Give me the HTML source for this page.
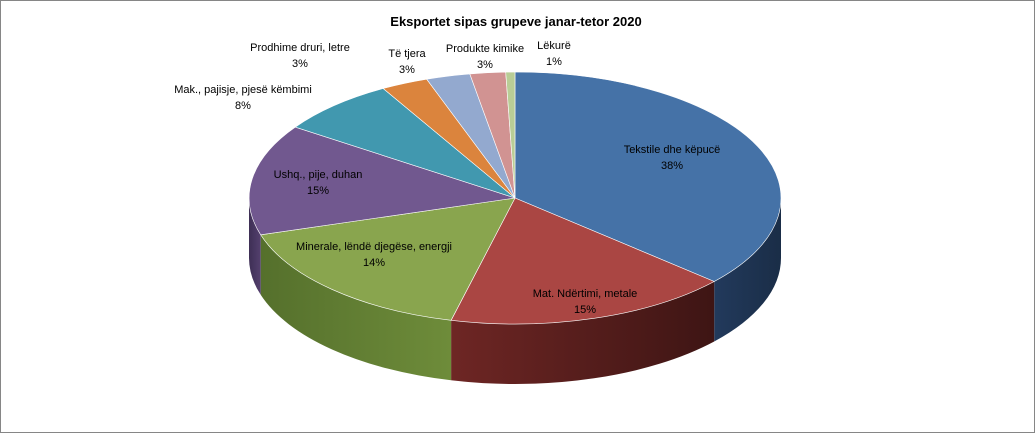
<!DOCTYPE html>
<html><head><meta charset="utf-8"><style>
html,body{margin:0;padding:0;background:#fff}
svg{display:block}
text{font-family:"Liberation Sans",sans-serif;font-size:11px;fill:#000}
</style></head><body>
<svg width="1035" height="433" viewBox="0 0 1035 433">
<defs>
<linearGradient id="gb" x1="0" x2="1"><stop offset="0" stop-color="#223a5c"/><stop offset="1" stop-color="#1a2d47"/></linearGradient>
<linearGradient id="gr" x1="0" x2="1"><stop offset="0" stop-color="#6e2624"/><stop offset="1" stop-color="#3e1514"/></linearGradient>
<linearGradient id="gg" x1="0" x2="1"><stop offset="0" stop-color="#55702c"/><stop offset="1" stop-color="#6e8c3a"/></linearGradient>
<linearGradient id="gp" x1="0" x2="1"><stop offset="0" stop-color="#3e2f55"/><stop offset="1" stop-color="#54406e"/></linearGradient>
</defs>
<rect x="0.5" y="0.5" width="1034" height="432" fill="#fff" stroke="#868686"/>
<text x="516" y="26" text-anchor="middle" style="font-weight:bold;font-size:13px">Eksportet sipas grupeve janar-tetor 2020</text>
<!-- sides -->
<path d="M781,198 A266,126 0 0 1 714.2,281.5 L714.2,341.5 A266,126 0 0 0 781,258 Z" fill="url(#gb)"/>
<path d="M714.2,281.5 A266,126 0 0 1 451.1,320.3 L451.1,380.3 A266,126 0 0 0 714.2,341.5 Z" fill="url(#gr)"/>
<path d="M451.1,320.3 A266,126 0 0 1 260.7,234.8 L260.7,294.8 A266,126 0 0 0 451.1,380.3 Z" fill="url(#gg)"/>
<path d="M260.7,234.8 A266,126 0 0 1 249,198 L249,258 A266,126 0 0 0 260.7,294.8 Z" fill="url(#gp)"/>
<!-- tops -->
<g stroke="#fff" stroke-width="0.6">
<path d="M515,198 L515,72 A266,126 0 0 1 714.2,281.5 Z" fill="#4572a7"/>
<path d="M515,198 L714.2,281.5 A266,126 0 0 1 451.1,320.3 Z" fill="#aa4643"/>
<path d="M515,198 L451.1,320.3 A266,126 0 0 1 260.7,234.8 Z" fill="#89a54e"/>
<path d="M515,198 L260.7,234.8 A266,126 0 0 1 295.3,127.1 Z" fill="#71588f"/>
<path d="M515,198 L295.3,127.1 A266,126 0 0 1 383.2,88.5 Z" fill="#4198af"/>
<path d="M515,198 L383.2,88.5 A266,126 0 0 1 426.7,79.2 Z" fill="#db843d"/>
<path d="M515,198 L426.7,79.2 A266,126 0 0 1 469.8,73.9 Z" fill="#93a9cf"/>
<path d="M515,198 L469.8,73.9 A266,126 0 0 1 505.7,72.1 Z" fill="#d19392"/>
<path d="M515,198 L505.7,72.1 A266,126 0 0 1 515,72 Z" fill="#b9cd96"/>
</g>
<g text-anchor="middle">
<text x="672" y="153">Tekstile dhe këpucë</text><text x="672" y="169">38%</text>
<text x="585" y="297">Mat. Ndërtimi, metale</text><text x="585" y="313">15%</text>
<text x="374" y="250">Minerale, lëndë djegëse, energji</text><text x="374" y="266">14%</text>
<text x="318" y="178">Ushq., pije, duhan</text><text x="318" y="194">15%</text>
<text x="243" y="93">Mak., pajisje, pjesë këmbimi</text><text x="243" y="109">8%</text>
<text x="300" y="51">Prodhime druri, letre</text><text x="300" y="67">3%</text>
<text x="407" y="57">Të tjera</text><text x="407" y="73">3%</text>
<text x="485" y="52">Produkte kimike</text><text x="485" y="68">3%</text>
<text x="554" y="49">Lëkurë</text><text x="554" y="65">1%</text>
</g>
</svg>
</body></html>
